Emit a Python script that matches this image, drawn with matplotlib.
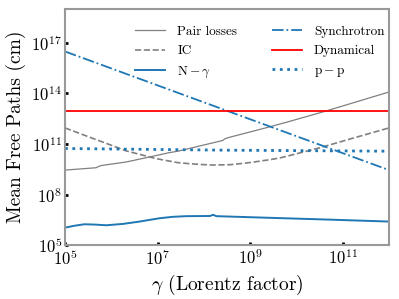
import numpy as np
import matplotlib
matplotlib.use("Agg")
import matplotlib.pyplot as plt

plt.rcParams['font.family'] = 'serif'
plt.rcParams['font.serif'] = ['cmr10']
plt.rcParams['mathtext.fontset'] = 'cm'
plt.rcParams['axes.formatter.use_mathtext'] = True

# log10(gamma) sample points and log10(mean free path) values
pair_lg = [5.0, 5.67, 5.72, 5.78, 6.32, 6.83, 7.26, 7.44, 7.77, 8.34, 8.41, 8.45, 8.52,
           9.43, 9.64, 9.79, 10.65, 10.72, 12.0]
pair_lv = [9.45, 9.59, 9.66, 9.72, 9.93, 10.23, 10.49, 10.57, 10.79, 11.16, 11.21, 11.30, 11.37,
           12.02, 12.18, 12.29, 12.96, 13.02, 14.08]

ic_lg = [5.0, 5.6, 6.1, 6.32, 6.97, 7.44, 7.69, 7.95, 8.19, 8.56, 8.85, 9.06, 9.43,
         9.64, 9.82, 10.5, 10.65, 11.23, 12.0]
ic_lv = [11.95, 11.33, 10.82, 10.59, 10.13, 9.89, 9.83, 9.78, 9.75, 9.77, 9.85, 9.92, 10.07,
         10.17, 10.29, 10.77, 10.89, 11.35, 11.95]

ng_lg = [5.0, 5.2, 5.42, 5.65, 5.89, 6.25, 6.61, 7.05, 7.33, 7.62, 8.13, 8.2, 8.27, 9.21, 10.65, 12.0]
ng_lv = [6.04, 6.15, 6.24, 6.22, 6.18, 6.26, 6.40, 6.60, 6.68, 6.72, 6.73, 6.80, 6.72, 6.64, 6.52, 6.40]

sync_lg = [5.0, 12.0]
sync_lv = [16.48, 9.45]

dyn_lg = [5.0, 12.0]
dyn_lv = [12.98, 12.98]

pp_lg = [5.0, 8.5, 12.0]
pp_lv = [10.73, 10.63, 10.57]

def tp(a):
    return 10.0 ** np.asarray(a)

fig = plt.figure(figsize=(3.99, 2.99), dpi=100)
ax = fig.add_axes([0.163, 0.18, 0.812, 0.79])

ax.plot(tp(pair_lg), tp(pair_lv), color='gray', lw=0.9, label='Pair losses')
ax.plot(tp(ic_lg), tp(ic_lv), color='gray', lw=1.2, ls='--', label='IC')
ax.plot(tp(ng_lg), tp(ng_lv), color='tab:blue', lw=1.4, label=r'$\mathrm{N}-\gamma$')
ax.plot(tp(sync_lg), tp(sync_lv), color='tab:blue', lw=1.3, ls='-.', label='Synchrotron')
ax.plot(tp(dyn_lg), tp(dyn_lv), color='red', lw=1.3, label='Dynamical')
ax.plot(tp(pp_lg), tp(pp_lv), color='tab:blue', lw=2.0, ls=':', label=r'$\mathrm{p-p}$')

ax.set_xscale('log')
ax.set_yscale('log')
ax.set_xlim(1e5, 1e12)
ax.set_ylim(1e5, 1e19)
ax.set_xticks([1e5, 1e7, 1e9, 1e11])
ax.set_yticks([1e5, 1e8, 1e11, 1e14, 1e17])
ax.minorticks_off()
ax.tick_params(direction='in', length=2.5, width=2, color='black', labelsize=12, pad=2)

for s in ax.spines.values():
    s.set_color('#999999')
    s.set_linewidth(1.5)

ax.set_xlabel(r'$\gamma$ (Lorentz factor)', fontsize=14, labelpad=4)
ax.set_ylabel('Mean Free Paths (cm)', fontsize=14, labelpad=4)

ax.legend(ncol=2, frameon=False, loc='upper right', fontsize=9.5,
          bbox_to_anchor=(1.022, 0.98), handlelength=2.3, handletextpad=0.9,
          columnspacing=2.6, labelspacing=0.55)

fig.savefig('out.png', dpi=100)
